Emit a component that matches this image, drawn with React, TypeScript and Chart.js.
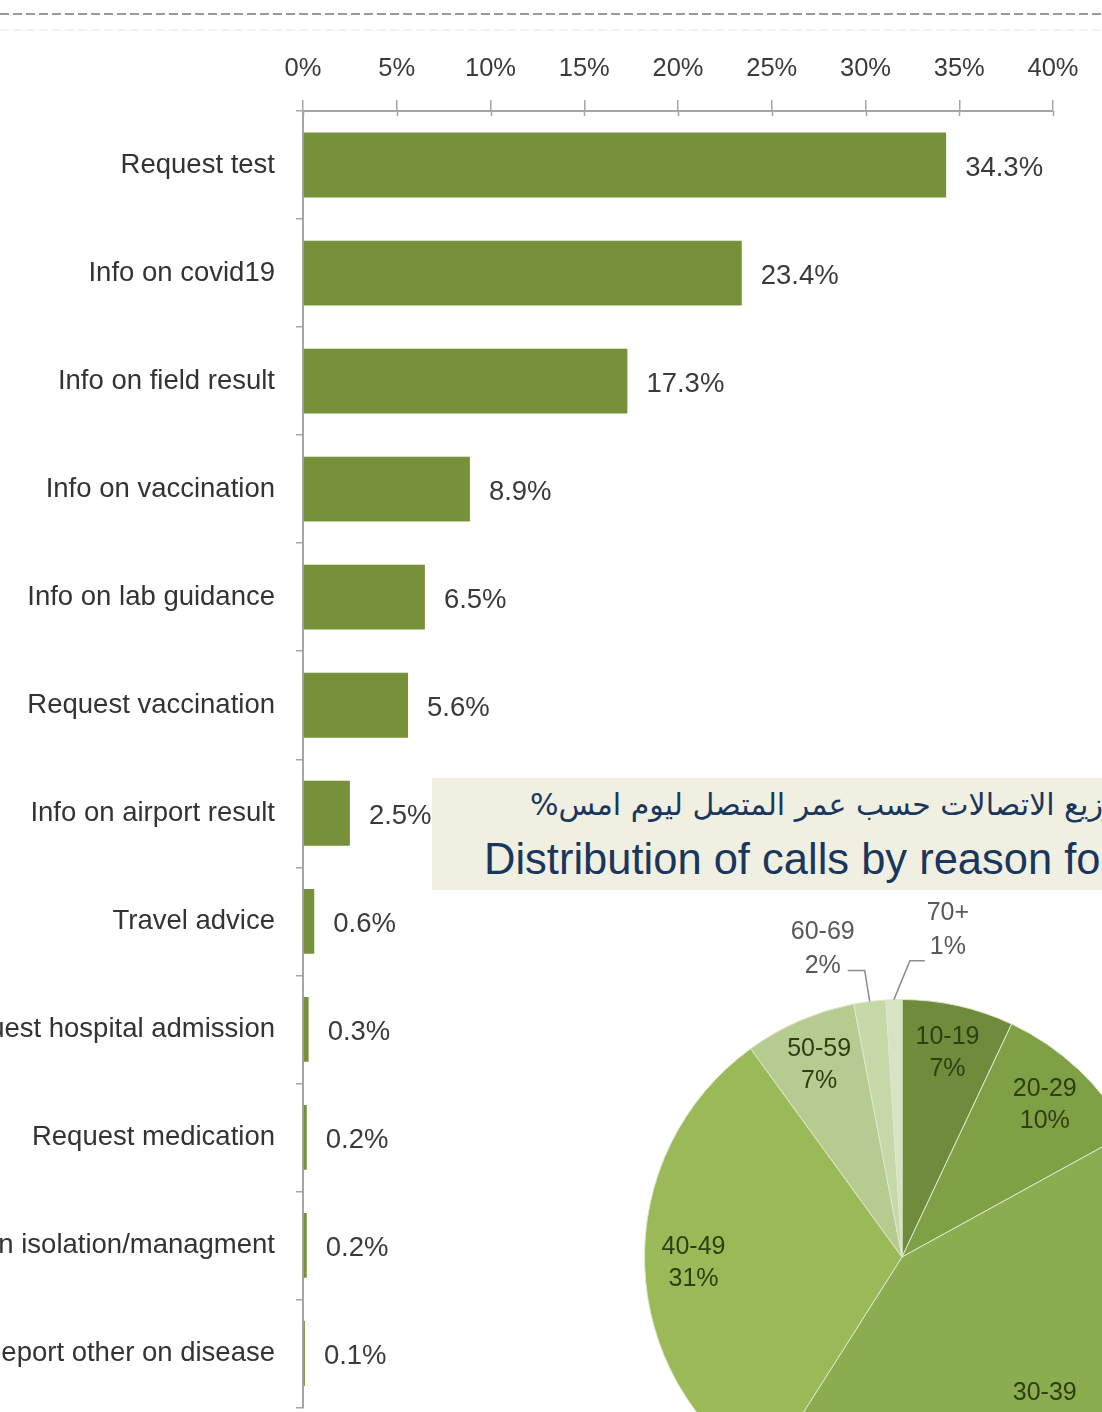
import React, { useEffect, useRef } from 'react';
import { Chart, registerables } from 'chart.js';

Chart.register(...registerables);

const FONT = '"Liberation Sans", Arial, sans-serif';

// ---- bar chart data ----
const reasons = [
  'Request test',
  'Info on covid19',
  'Info on field result',
  'Info on vaccination',
  'Info on lab guidance',
  'Request vaccination',
  'Info on airport result',
  'Travel advice',
  'Request hospital admission',
  'Request medication',
  'Info on isolation/managment',
  'Report other on disease',
];
const reasonShare = [34.3, 23.4, 17.3, 8.9, 6.5, 5.6, 2.5, 0.6, 0.3, 0.2, 0.2, 0.1];
const xTickValues = [0, 5, 10, 15, 20, 25, 30, 35, 40];

// ---- pie chart data ----
const ageGroups = ['10-19', '20-29', '30-39', '40-49', '50-59', '60-69', '70+'];
const ageShare = [7, 10, 42, 31, 7, 2, 1];
const ageColors = ['#6f8c3c', '#80a046', '#8bad4f', '#9aba58', '#b5cb8f', '#c7d8a8', '#d7e3c1'];

const titleArabic = 'توزيع الاتصالات حسب عمر المتصل ليوم امس%';
const titleEnglish = 'Distribution of calls by reason for call';

const BAR_COLOR = '#76913a';
const AXIS_COLOR = '#a6a6a6';

const valueLabelPlugin = {
  id: 'valueLabels',
  afterDatasetsDraw(chart: any) {
    const ctx = chart.ctx;
    const meta = chart.getDatasetMeta(0);
    ctx.save();
    ctx.font = `27.5px ${FONT}`;
    ctx.fillStyle = '#3a3a3a';
    ctx.textAlign = 'left';
    ctx.textBaseline = 'middle';
    meta.data.forEach((el: any, i: number) => {
      ctx.fillText(reasonShare[i].toFixed(1) + '%', el.x + 19, el.y + 3);
    });
    ctx.restore();
  },
};

const tickCrossPlugin = {
  id: 'tickCross',
  afterDraw(chart: any) {
    const ctx = chart.ctx;
    const xs = chart.scales.x;
    const top = chart.chartArea.top;
    ctx.save();
    ctx.strokeStyle = AXIS_COLOR;
    ctx.lineWidth = 1.5;
    xs.ticks.forEach((t: any) => {
      const px = Math.round(xs.getPixelForValue(t.value)) + 0.5;
      ctx.beginPath();
      ctx.moveTo(px, top);
      ctx.lineTo(px, top + 5);
      ctx.stroke();
    });
    ctx.restore();
  },
};

const pieCallouts: Record<string, any> = {
  '60-69': { dx: -5, dy: -31, run: -17, tx: -42, ty1: -38, ty2: -4 },
  '70+': { dx: 16, dy: -39, run: 15, tx: 38, ty1: -48, ty2: -14 },
};

const pieLabelPlugin = {
  id: 'pieLabels',
  afterDatasetsDraw(chart: any) {
    const ctx = chart.ctx;
    const meta = chart.getDatasetMeta(0);
    ctx.save();
    ctx.font = `25px ${FONT}`;
    ctx.textAlign = 'center';
    ctx.textBaseline = 'middle';
    meta.data.forEach((arc: any, i: number) => {
      const p = arc.getProps(['x', 'y', 'startAngle', 'endAngle', 'outerRadius'], true);
      const mid = (p.startAngle + p.endAngle) / 2;
      const name = ageGroups[i];
      const pct = ageShare[i] + '%';
      const c = pieCallouts[name];
      if (!c) {
        const r = p.outerRadius * 0.81;
        const cx = p.x + Math.cos(mid) * r;
        const cy = p.y + Math.sin(mid) * r;
        ctx.fillStyle = '#2e3f12';
        ctx.fillText(name, cx, cy - 16);
        ctx.fillText(pct, cx, cy + 16);
      } else {
        const ex = p.x + Math.cos(mid) * p.outerRadius;
        const ey = p.y + Math.sin(mid) * p.outerRadius;
        const bx = ex + c.dx;
        const by = ey + c.dy;
        ctx.strokeStyle = '#8c8c8c';
        ctx.lineWidth = 1.5;
        ctx.beginPath();
        ctx.moveTo(ex, ey);
        ctx.lineTo(bx, by);
        ctx.lineTo(bx + c.run, by);
        ctx.stroke();
        ctx.fillStyle = '#595959';
        ctx.fillText(name, bx + c.tx, by + c.ty1);
        ctx.fillText(pct, bx + c.tx, by + c.ty2);
      }
    });
    ctx.restore();
  },
};

function BarChart() {
  const ref = useRef<HTMLCanvasElement>(null);
  useEffect(() => {
    if (!ref.current) return;
    const chart = new Chart(ref.current, {
      type: 'bar',
      data: {
        labels: reasons,
        datasets: [
          {
            data: reasonShare,
            backgroundColor: BAR_COLOR,
            borderWidth: 0,
            barPercentage: 0.6,
            categoryPercentage: 1,
          },
        ],
      },
      options: {
        indexAxis: 'y',
        animation: false,
        responsive: false,
        layout: { padding: { left: 0, right: 49, top: 0, bottom: 8 } },
        plugins: { legend: { display: false }, tooltip: { enabled: false }, title: { display: false } },
        scales: {
          x: {
            position: 'top',
            min: 0,
            max: 40,
            afterBuildTicks: (s: any) => {
              s.ticks = xTickValues.map((v) => ({ value: v }));
            },
            ticks: {
              callback: (v: any) => v + '%',
              font: { size: 25.5, family: FONT },
              color: '#3a3a3a',
              padding: 16,
              maxRotation: 0,
              autoSkip: false,
            },
            grid: { drawOnChartArea: false, tickLength: 11, color: AXIS_COLOR, lineWidth: 1.5 },
            border: { color: AXIS_COLOR, width: 2 },
            afterFit: (s: any) => {
              s.height = 111;
            },
          },
          y: {
            ticks: { font: { size: 27.5, family: FONT }, color: '#333333', padding: 21, autoSkip: false },
            grid: { drawOnChartArea: false, tickLength: 7, color: AXIS_COLOR, lineWidth: 1.5, offset: true },
            border: { color: AXIS_COLOR, width: 2 },
            afterFit: (s: any) => {
              s.width = 553;
            },
          },
        },
      } as any,
      plugins: [valueLabelPlugin, tickCrossPlugin],
    });
    return () => chart.destroy();
  }, []);
  return (
    <canvas
      ref={ref}
      width={1352}
      height={1445}
      style={{ position: 'absolute', left: -250, top: 0, width: 1352, height: 1445 }}
    />
  );
}

function PieChart() {
  const ref = useRef<HTMLCanvasElement>(null);
  useEffect(() => {
    if (!ref.current) return;
    const chart = new Chart(ref.current, {
      type: 'pie',
      data: {
        labels: ageGroups,
        datasets: [
          {
            data: ageShare,
            backgroundColor: ageColors,
            borderColor: '#dde7cc',
            borderWidth: 1,
          },
        ],
      },
      options: {
        animation: false,
        responsive: false,
        layout: { padding: 122 },
        plugins: { legend: { display: false }, tooltip: { enabled: false } },
      } as any,
      plugins: [pieLabelPlugin],
    });
    return () => chart.destroy();
  }, []);
  return (
    <canvas
      ref={ref}
      width={760}
      height={760}
      style={{ position: 'absolute', left: 522, top: 877, width: 760, height: 760 }}
    />
  );
}

export default function App() {
  return (
    <div
      style={{
        position: 'absolute',
        left: 0,
        top: 0,
        width: 1102,
        height: 1412,
        overflow: 'hidden',
        background: '#ffffff',
      }}
    >
      <svg width={1102} height={40} style={{ position: 'absolute', left: 0, top: 0 }}>
        <line x1={0} y1={14} x2={1102} y2={14} stroke="#9a9a9a" strokeWidth={2} strokeDasharray="9 4" />
        <line x1={0} y1={30} x2={1102} y2={30} stroke="#eeeeee" strokeWidth={1.5} strokeDasharray="9 4" />
      </svg>
      <BarChart />
      <div
        style={{
          position: 'absolute',
          left: 432,
          top: 778,
          width: 700,
          height: 112,
          background: '#f0f0e2',
        }}
      />
      <span
        dir="rtl"
        style={{
          position: 'absolute',
          left: 530,
          top: 790,
          whiteSpace: 'nowrap',
          fontFamily: '"DejaVu Sans", sans-serif',
          fontSize: 30,
          lineHeight: 1,
          color: '#1b365d',
        }}
      >
        {titleArabic}
      </span>
      <span
        style={{
          position: 'absolute',
          left: 484,
          top: 838,
          whiteSpace: 'nowrap',
          fontFamily: FONT,
          fontSize: 43.5,
          lineHeight: 1,
          color: '#1b365d',
        }}
      >
        {titleEnglish}
      </span>
      <PieChart />
    </div>
  );
}
